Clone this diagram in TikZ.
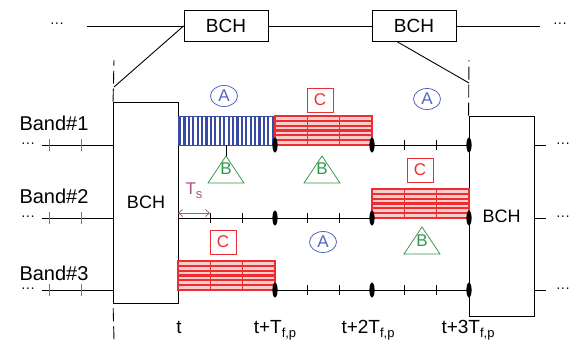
\documentclass[tikz,border=0pt]{standalone}
\usepackage{fontspec}
\setmainfont{Liberation Sans}
\usetikzlibrary{arrows.meta,shapes.geometric}
\definecolor{bblue}{RGB}{55,75,165}
\definecolor{cblue}{RGB}{85,100,195}
\definecolor{rred}{RGB}{238,45,50}
\definecolor{rpink}{RGB}{250,205,205}
\definecolor{ggreen}{RGB}{55,150,75}
\definecolor{tspurple}{RGB}{170,85,135}
\definecolor{tickgray}{RGB}{120,120,120}
\newcommand\fsz[1]{\fontsize{#1}{#1}\selectfont}
\newcommand\sbs[1]{\raisebox{-4pt}{\fsz{13}#1}}
\newcommand\redblk[2]{%
  \fill[rpink] (#1,#2) rectangle ++(97,29);
  \foreach \k in {1,...,5} \draw[rred, line width=2.1pt] (#1,{#2+\k*29/6}) -- ++(97,0);
  \draw[rred, line width=0.8pt] ({#1+97/3},#2) -- ++(0,29) ({#1+2*97/3},#2) -- ++(0,29);
  \draw[rred, line width=1.4pt] (#1,#2) rectangle ++(97,29);
}
\begin{document}
\begin{tikzpicture}[x=1pt,y=-1pt,line width=0.9pt,
  bchbox/.style={draw, inner sep=0pt, minimum width=84pt, minimum height=31pt, font=\fsz{19}},
  bigbox/.style={draw, fill=white, inner sep=0pt, minimum width=65pt, font=\fsz{18}},
  aell/.style={ellipse, draw=cblue, text=cblue, inner sep=0pt, minimum width=27pt, minimum height=21pt, font=\fsz{17}, line width=0.8pt},
  cbox/.style={draw=rred, text=rred, inner sep=0pt, minimum width=26pt, minimum height=24pt, font=\fsz{17}, line width=0.8pt},
  blet/.style={text=ggreen, font=\fsz{17}, inner sep=0pt},
  trig/.style={draw=ggreen, line width=0.8pt},
  band/.style={font=\fsz{20}, inner sep=0pt},
  dotsn/.style={font=\fsz{14}, inner sep=0pt},
  tk/.style={line width=0.7pt},
  ltk/.style={line width=0.7pt, draw=tickgray},
  dsh/.style={dash pattern=on 13pt off 5pt},
  tlabel/.style={anchor=base, font=\fsz{19}, inner sep=0pt}]
\useasboundingbox (0,0) rectangle (578,340);

% top timeline
\coordinate (tl) at (87,26);
\coordinate (tr) at (540,26);
\node[bchbox] (bch1) at (226,26) {BCH};
\node[bchbox] (bch2) at (414,26) {BCH};
\draw (tl) -- (bch1) -- (bch2) -- (tr);
\node[dotsn] (dtl) at (57,25) {···};
\node[dotsn] (dtr) at (560,25) {···};

% big BCH boxes
\node[bigbox, minimum height=201pt] (bigL) at (146,202.5) {BCH};
\node[bigbox, minimum height=200pt] (bigR) at (501.5,216) {BCH};

% dashed markers and diagonals
\coordinate (d1e) at (114,87);
\coordinate (d2e) at (469,83);
\draw[dsh] (bigL.north west) -- (114,60);
\draw[dsh, dash phase=13pt] (bigL.south west) -- (114,340);
\draw[dsh] (bigR.north west) -- (469,60);
\draw (bch1.west) -- (d1e);
\draw ([xshift=26pt]bch2.south west) -- (d2e);

% band lines
\foreach \y in {145,218,290} {
  \draw (42,\y) -- (114,\y);
  \draw[ltk] (49,{\y-6}) -- (49,{\y+6});
  \draw[ltk] (81,{\y-6}) -- (81,{\y+6});
  \draw (178,\y) -- (469,\y);
  \draw (534,\y) -- (546,\y);
  \node[dotsn] at (28,\y) {···};
  \node[dotsn] at (563,\y) {···};
}
\node[band] (band1) at (54,123) {Band\#1};
\node[band] (band2) at (54,196) {Band\#2};
\node[band] (band3) at (54,273) {Band\#3};

% inner ticks
\foreach \x in {404.3,436.7} \draw[tk] (\x,140) -- (\x,150);
\foreach \x in {210.3,242.7,307.3,339.7} \draw[tk] (\x,213) -- (\x,223);
\foreach \x in {307.3,339.7,404.3,436.7} \draw[tk] (\x,285) -- (\x,295);

% blue block
\fill[white] (178,116) rectangle (275,145);
\foreach \i in {0,...,21} \fill[bblue] ({179+\i*97/22},116) rectangle ++(2.2,29);
\draw[bblue, line width=0.8pt] (178,116) rectangle (275,145);

% red blocks
\redblk{275}{116}
\redblk{372}{189}
\redblk{178}{261}

% thick frame boundary marks
\foreach \x in {275,372,469} \foreach \y in {145,218,290}
  \fill (\x,\y) ellipse [x radius=2.6pt, y radius=7.5pt];

% A ellipses
\node[aell] (a1) at (224,96) {A};
\node[aell] (a2) at (427,99) {A};
\node[aell] (a3) at (323,242) {A};

% C boxes
\node[cbox] (c1) at (320,100) {C};
\node[cbox] (c2) at (420,170) {C};
\node[cbox] (c3) at (223,242) {C};

% B triangles
\coordinate (t1) at (226,156);
\coordinate (t2) at (322,156);
\coordinate (t3) at (422,227);
\foreach \t in {t1,t2,t3}
  \draw[trig] ([xshift=-18pt,yshift=-27pt]\t) -- ([xshift=18pt,yshift=-27pt]\t) -- (\t) -- cycle;
\node[blet] (b1) at ([yshift=-13pt]t1) {B};
\node[blet] (b2) at ([yshift=-13pt]t2) {B};
\node[blet] (b3) at ([yshift=-14pt]t3) {B};
\coordinate (bl) at (226,145);
\draw (bl) -- (t1);

% Ts
\coordinate (tsa) at (178,213);
\coordinate (tsb) at (210,213);
\draw[tspurple, line width=0.8pt, {Straight Barb[length=4pt,width=7pt]}-{Straight Barb[length=4pt,width=7pt]}] (tsa) -- (tsb);
\node[text=tspurple, font=\fsz{17}, inner sep=0pt] (ts) at (194,191) {T\sbs{s}};

% time labels
\node[tlabel] (l0) at (179,333) {t};
\node[tlabel] (l1) at (275,333) {t+T\sbs{f,p}};
\node[tlabel] (l2) at (368,333) {t+2T\sbs{f,p}};
\node[tlabel] (l3) at (468,333) {t+3T\sbs{f,p}};
\end{tikzpicture}
\end{document}
